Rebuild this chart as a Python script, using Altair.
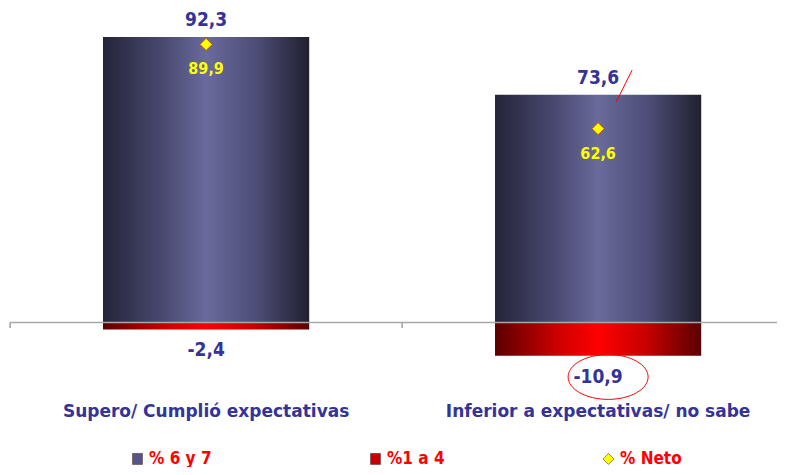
import altair as alt
import pandas as pd

categorias = ["Supero/ Cumplió expectativas", "Inferior a expectativas/ no sabe"]
pct_6y7 = [92.3, 73.6]
pct_1a4 = [-2.4, -10.9]
pct_neto = [89.9, 62.6]
series = ["% 6 y 7", "%1 a 4", "% Neto"]

# annotations (hand-drawn marks in the original)
elipse_cat = [categorias[1]]
elipse_val = [-17.8]
trazo_cat = [categorias[1]]
trazo_val = [76.4]

def fmt(v):
    return f"{v:.1f}".replace(".", ",")

df = pd.DataFrame({
    "cat": categorias,
    "pos": pct_6y7,
    "neg": pct_1a4,
    "neto": pct_neto,
    "cero": [0.0] * len(categorias),
    "pos_l": [fmt(v) for v in pct_6y7],
    "neg_l": [fmt(v) for v in pct_1a4],
    "neto_l": [fmt(v) for v in pct_neto],
    "serie": ["% Neto"] * len(categorias),
})
df_el = pd.DataFrame({"cat": elipse_cat, "v": elipse_val})
df_tr = pd.DataFrame({"cat": trazo_cat, "v": trazo_val})

FONT_C = "DejaVu Sans Condensed"
FONT = "DejaVu Sans"
NAVY = "#333399"

x = alt.X("cat:N", sort=categorias, title=None,
          scale=alt.Scale(paddingInner=0.474, paddingOuter=0.2153, align=0.551),
          axis=alt.Axis(orient="bottom", labelAngle=0, ticks=False,
                        domainColor="#a8a8a8", domainWidth=1.3,
                        labelFont=FONT, labelFontSize=17, labelFontWeight="bold",
                        labelColor=NAVY, labelPadding=81, labelLimit=0, zindex=1))
y_scale = alt.Scale(domain=[0, 100], nice=False, zero=True)

navy_grad = alt.LinearGradient(
    gradient="linear", x1=0, x2=1, y1=0, y2=0,
    stops=[alt.GradientStop(color="#24243a", offset=0),
           alt.GradientStop(color="#4a4a72", offset=0.3),
           alt.GradientStop(color="#6a6a9c", offset=0.5),
           alt.GradientStop(color="#4c4c76", offset=0.75),
           alt.GradientStop(color="#20202e", offset=1)])
red_grad = alt.LinearGradient(
    gradient="linear", x1=0, x2=1, y1=0, y2=0,
    stops=[alt.GradientStop(color="#5a0000", offset=0),
           alt.GradientStop(color="#cc0000", offset=0.3),
           alt.GradientStop(color="#ff0000", offset=0.5),
           alt.GradientStop(color="#cc0000", offset=0.72),
           alt.GradientStop(color="#5a0000", offset=1)])

base = alt.Chart(df)

bars_pos = base.mark_bar(color=navy_grad, width={"band": 1}).encode(
    x=x, y=alt.Y("pos:Q", scale=y_scale, axis=None))
bars_neg = base.mark_bar(color=red_grad, width={"band": 1}).encode(
    x=x, y=alt.Y("neg:Q", scale=y_scale, axis=None))

# category-boundary ticks below the baseline
ticks = base.mark_rule(color="#a0a0a0", strokeWidth=1.5, xOffset=-196,
                       y2Offset=6).encode(
    x=x, y=alt.Y("cero:Q", scale=y_scale, axis=None), y2=alt.Y2("cero:Q"))

lab_pos = base.mark_text(font=FONT_C, fontSize=19, fontWeight="bold", color=NAVY,
                         baseline="middle", dy=-17).encode(
    x=x, y=alt.Y("pos:Q", scale=y_scale, axis=None), text="pos_l:N")
lab_neg = base.mark_text(font=FONT_C, fontSize=19, fontWeight="bold", color=NAVY,
                         baseline="middle", dy=21).encode(
    x=x, y=alt.Y("neg:Q", scale=y_scale, axis=None), text="neg_l:N")
lab_neto = base.mark_text(font=FONT_C, fontSize=16, fontWeight="bold", color="#ffff00",
                          baseline="middle", dy=25).encode(
    x=x, y=alt.Y("neto:Q", scale=y_scale, axis=None), text="neto_l:N")

rect_path = "M-0.9,-1 H0.9 V1 H-0.9 Z"
pts = base.mark_point(filled=True, size=150, opacity=1, stroke="#cc3300",
                      strokeWidth=0.8).encode(
    x=x, y=alt.Y("neto:Q", scale=y_scale, axis=None),
    color=alt.Color("serie:N", scale=alt.Scale(domain=series,
                    range=["#55558a", "#cc0000", "#ffff00"]),
                    legend=alt.Legend(title=None, orient="none", direction="horizontal",
                                      columns=3, legendX=119, legendY=437,
                                      columnPadding=155, labelOffset=3,
                                      labelFont=FONT_C, labelFontSize=17,
                                      labelFontWeight="bold", labelColor="#ff0000",
                                      symbolSize=121, symbolOpacity=1,
                                      symbolStrokeWidth=0.6,
                                      symbolStrokeColor="#553333")),
    shape=alt.Shape("serie:N", scale=alt.Scale(domain=series,
                    range=[rect_path, rect_path, "diamond"]), legend=None),
)

elipse = alt.Chart(df_el).mark_point(
    shape="M-1,0 A1,0.56 0 1,1 1,0 A1,0.56 0 1,1 -1,0 Z", size=6400,
    filled=False, stroke="#ff0000", strokeWidth=1, opacity=1, xOffset=10).encode(
    x=x, y=alt.Y("v:Q", scale=y_scale, axis=None))
trazo = alt.Chart(df_tr).mark_point(
    shape="M-0.5,1 L0.5,-1", size=1024,
    filled=False, stroke="#ff0000", strokeWidth=1, opacity=1, xOffset=26).encode(
    x=x, y=alt.Y("v:Q", scale=y_scale, axis=None))

chart = alt.layer(bars_pos, bars_neg, ticks, pts, lab_pos, lab_neg, lab_neto, elipse, trazo).properties(
    width=767, height=308.8,
    autosize=alt.AutoSizeParams(type="none"),
    padding={"left": 2, "top": 5.2, "right": 0, "bottom": 145},
    background="white",
).configure_view(stroke=None)

chart.save("out.html", embed_options={"renderer": "svg", "actions": False})
